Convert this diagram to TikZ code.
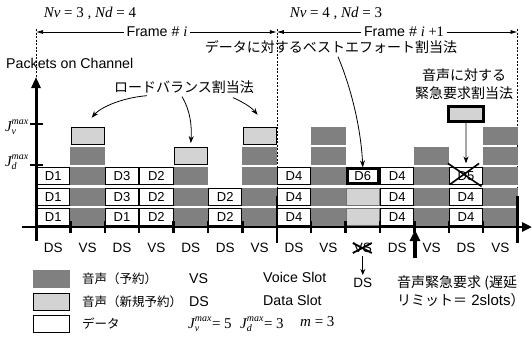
\documentclass[tikz,border=0pt]{standalone}
\usepackage{fontspec}
\setmainfont{Liberation Sans}
\newfontfamily\jp{Noto Sans CJK JP}
\newfontfamily\tms{Liberation Serif}
\usetikzlibrary{arrows.meta}
\definecolor{vgray}{RGB}{128,128,128}
\definecolor{lgray}{RGB}{211,211,211}
\newcommand\fs[1]{\fontsize{#1}{#1}\selectfont}
\newcommand\Jm[1]{$\hbox{\tms\itshape\fs{15}J}^{\hbox{\tms\itshape\fs{10}max}}_{\hbox{\tms\itshape\fs{10}#1}}$}
\newcommand\Cell[4]{\node[#3] (c#1-#2) at ({36+34.4*(#1+0.5)},{217-20.3*(#2-1)}) {#4};}
\begin{document}
\begin{tikzpicture}[x=1pt,y=-1pt,
  dk/.style={fill=vgray, minimum width=34.4pt, minimum height=18pt, inner sep=0pt},
  lt/.style={fill=lgray, draw=black, line width=1pt, minimum width=33.2pt, minimum height=17pt, inner sep=0pt},
  ltb/.style={fill=lgray, draw=black!55, line width=0.6pt, minimum width=33.8pt, minimum height=17.4pt, inner sep=0pt},
  dt/.style={fill=white, draw=black, line width=1pt, minimum width=33.2pt, minimum height=17pt, inner sep=0pt, font=\fs{13}},
  dtk/.style={dt, line width=3pt, minimum width=31.2pt, minimum height=15pt},
  lab/.style={font=\fs{13.5}, inner sep=1pt},
  lab2/.style={font=\fs{14.2}, inner sep=1pt},
  jlab/.style={font=\jp\fs{14}, inner sep=1pt},
  tk/.style={line width=2.5pt},
  dsh/.style={dash pattern=on 2pt off 1.5pt, line width=0.6pt},
  ca/.style={line width=0.8pt, -{Stealth[length=7pt,width=5pt]}},
  fa/.style={line width=0.7pt, {Latex[length=7pt,width=4pt]}-{Latex[length=7pt,width=4pt]}},
]
\useasboundingbox (0,0) rectangle (532,340);

% dashed frame boundaries
\coordinate (ye) at (36,77);
\draw[dsh] (36,29) -- (ye);
\draw[dsh] (276.8,29) -- (276.8,196);
\draw[dsh] (517.6,29) -- (517.6,196);

% cells
\foreach \r in {1,2,3} {\Cell{0}{\r}{dt}{D1}}
\foreach \r in {1,2,3,4} {\Cell{1}{\r}{dk}{}}
\Cell{1}{5}{lt}{}
\Cell{2}{1}{dt}{D1} \Cell{2}{2}{dt}{D3} \Cell{2}{3}{dt}{D3}
\foreach \r in {1,2,3} {\Cell{3}{\r}{dt}{D2}}
\foreach \r in {1,2,3} {\Cell{4}{\r}{dk}{}}
\Cell{4}{4}{lt}{}
\Cell{5}{1}{dt}{D2} \Cell{5}{2}{dt}{D2}
\foreach \r in {1,2,3,4} {\Cell{6}{\r}{dk}{}}
\Cell{6}{5}{lt}{}
\foreach \r in {1,2,3} {\Cell{7}{\r}{dt}{D4}}
\foreach \r in {1,2,3,4,5} {\Cell{8}{\r}{dk}{}}
\Cell{9}{1}{ltb}{} \Cell{9}{2}{ltb}{} \Cell{9}{3}{dtk}{D6}
\foreach \r in {1,2,3} {\Cell{10}{\r}{dt}{D4}}
\foreach \r in {1,2,3,4} {\Cell{11}{\r}{dk}{}}
\Cell{12}{1}{dt}{D4} \Cell{12}{2}{dt}{D4} \Cell{12}{3}{dt}{D5}
\foreach \r in {1,2,3,4,5} {\Cell{13}{\r}{dk}{}}

% crossed D5
\draw[line width=1.6pt] ([xshift=-1pt,yshift=4pt]c12-3.north west) -- ([xshift=-1.5pt,yshift=-1pt]c12-3.south east);
\draw[line width=1.6pt] ([xshift=1pt,yshift=1pt]c12-3.south west) -- ([xshift=-4pt,yshift=4pt]c12-3.north east);

% axes
\coordinate (xo) at (22,227);
\coordinate (xe) at (532,227);
\coordinate (yo) at (36,241);
\draw[line width=2.5pt,-{Triangle[length=10pt,width=9pt]}] (xo) -- (xe);
\draw[line width=3pt,-{Triangle[length=11pt,width=9pt]}] (yo) -- (ye);
\foreach \i in {1,2,3,4,5,6,8,9,10,11,12,13} {\draw[tk] ({36+34.4*\i},221) -- ({36+34.4*\i},233);}
\draw[tk] (276.8,196) -- (276.8,243);
\draw[tk] (517.6,196) -- (517.6,243);
\draw[tk] (30,124) -- (43,124);
\draw[tk] (30,165) -- (43,165);
\node[inner sep=0pt] (jv) at (17,127) {\Jm{v}};
\node[inner sep=0pt] (jd) at (17,162) {\Jm{d}};
\node[lab2, anchor=west] (pc) at (5,63) {Packets on Channel};

% top labels
\node[inner sep=1pt, font=\tms\fs{15}] (nv1) at (90,13) {\textit{Nv} = 3 ,\ \textit{Nd} = 4};
\node[inner sep=1pt, font=\tms\fs{15}] (nv2) at (336,13) {\textit{Nv} = 4 ,\ \textit{Nd} = 3};
\coordinate (f0) at (36,32);
\coordinate (f1) at (276.8,32);
\coordinate (f2) at (517.6,32);
\draw[fa] (f0) -- (f1);
\draw[fa] (f1) -- (f2);
\node[lab2, fill=white, inner sep=3pt] (fr1) at (157,32) {Frame \# {\tms\itshape\fs{14.5}i}};
\node[lab2, fill=white, inner sep=3pt] (fr2) at (404,32) {Frame \# {\tms\itshape\fs{14.5}i}{\tms\fs{14.5} +1}};

\node[jlab] (be) at (331,47) {データに対するベストエフォート割当法};
\node[jlab] (lb) at (184,87) {ロードバランス割当法};
\node[jlab, align=center, font=\jp\fontsize{14}{18}\selectfont] (em) at (464,84) {音声に対する\\緊急要求割当法};
\node[fill=lgray, draw=black, line width=3pt, minimum width=35pt, minimum height=15pt, inner sep=0pt] (eb) at (466,114) {};

% curved arrows
\draw[ca] ([xshift=-37pt,yshift=-1pt]lb.south) .. controls (120,98) and (100,108) .. ([xshift=4pt,yshift=9pt]c1-5.north);
\draw[ca] ([xshift=-2pt,yshift=-2pt]lb.south) .. controls (190,110) and (192,125) .. ([yshift=4pt]c4-4.north);
\draw[ca] ([xshift=49pt,yshift=-3pt]lb.south) .. controls (245,103) and (252,108) .. ([xshift=-2pt,yshift=12pt]c6-5.north);
\draw[ca] ([xshift=7pt,yshift=-2pt]be.south) .. controls (352,90) and (361,130) .. (c9-3.north);
\draw[ca] (eb.south) -- ([yshift=4pt]c12-3.north);

% slot labels
\foreach \t [count=\i from 0] in {DS,VS,DS,VS,DS,DS,VS,DS,VS,VS,DS,VS,DS,VS} {\node[lab] (l\i) at ({36+34.4*(\i+0.5)},248) {\t};}
\draw[line width=1.8pt] ([xshift=-10pt,yshift=5pt]l9.center) -- ([xshift=9pt,yshift=-5pt]l9.center);
\draw[line width=1.8pt] ([xshift=-10pt,yshift=-5pt]l9.center) -- ([xshift=9pt,yshift=5pt]l9.center);
\node[lab] (ds9) at ({36+34.4*9.5},283) {DS};
\draw[line width=0.8pt, -{Stealth[length=6pt,width=5pt]}] ([yshift=-2pt]l9.south) -- ([yshift=2pt]ds9.north);

\coordinate (ua0) at (415,258);
\coordinate (ua1) at (415,230);
\draw[line width=3.5pt,-{Triangle[length=11pt,width=10pt]}] (ua0) -- (ua1);
\node[anchor=west, align=left, inner sep=1pt, font=\jp\fontsize{14}{18}\selectfont] (ur) at (396,291) {音声緊急要求 (遅延\\リミット＝{\rmfamily\fs{15} 2slots}）};

% legend
\node[fill=vgray, minimum width=37pt, minimum height=18pt, inner sep=0pt] (lg1) at (51.5,279) {};
\node[fill=lgray, draw=black, line width=1pt, minimum width=36pt, minimum height=17pt, inner sep=0pt] (lg2) at (51.5,301.5) {};
\node[fill=white, draw=black, line width=1pt, minimum width=36pt, minimum height=17pt, inner sep=0pt] (lg3) at (51.5,323.5) {};
\node[anchor=west, inner sep=0pt, font=\jp\fs{12.5}] (t1) at (82,279) {音声（予約）};
\node[anchor=west, inner sep=0pt, font=\jp\fs{12.5}] (t2) at (82,301.5) {音声（新規予約）};
\node[anchor=west, inner sep=0pt, font=\jp\fs{12.5}] (t3) at (82,323.5) {データ};
\node[lab2, anchor=west] (v1) at (188,279) {VS};
\node[lab2, anchor=west] (v2) at (188,301.5) {DS};
\node[anchor=west, inner sep=0pt] (v3) at (188,324) {\Jm{v}{\tms\fs{15}= 5}};
\node[lab2, anchor=west] (w1) at (262,277) {Voice Slot};
\node[lab2, anchor=west] (w2) at (262,300) {Data Slot};
\node[anchor=west, inner sep=0pt] (w3) at (240,324) {\Jm{d}{\tms\fs{15}= 3}};
\node[anchor=west, inner sep=0pt, font=\tms\fs{15}] (w4) at (300,322) {\textit{m} = 3};
\end{tikzpicture}
\end{document}
